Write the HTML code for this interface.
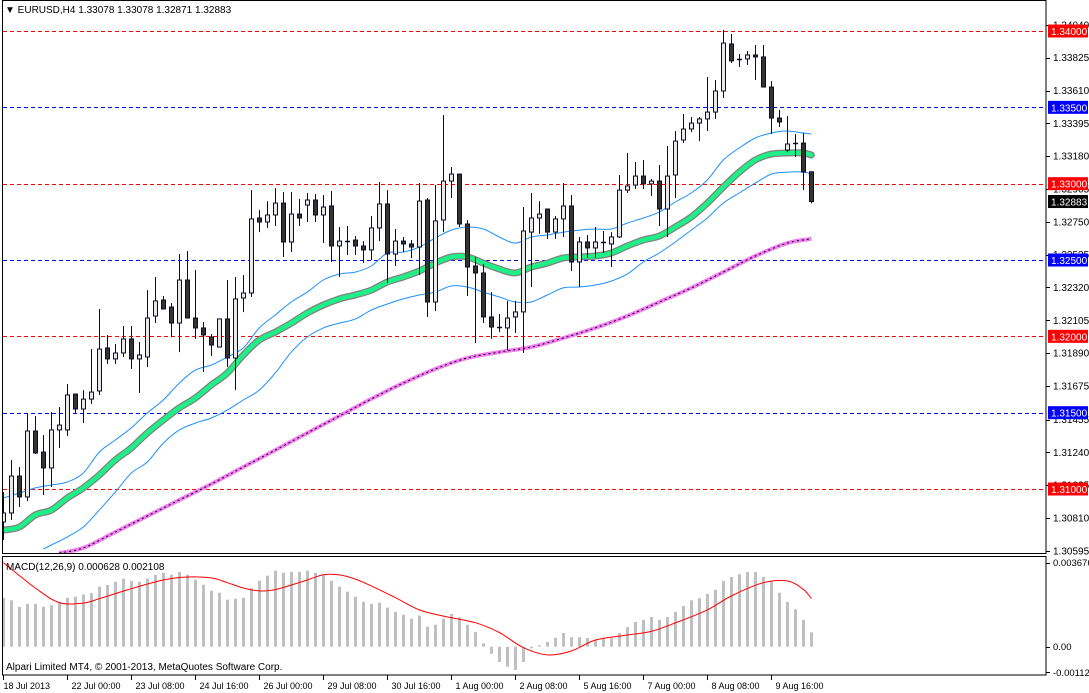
<!DOCTYPE html>
<html><head><meta charset="utf-8">
<style>
html,body{margin:0;padding:0;background:#fff;}
svg{display:block;font-family:"Liberation Sans",sans-serif;}
</style></head>
<body>
<svg id="chart" width="1089" height="693" viewBox="0 0 1089 693" xmlns="http://www.w3.org/2000/svg">
<rect x="0" y="0" width="1089" height="693" fill="#fff"/>
<defs>
<clipPath id="mainClip"><rect x="3" y="1" width="1043" height="552"/></clipPath>
<clipPath id="macdClip"><rect x="3" y="557" width="1043" height="118"/></clipPath>
</defs>
<g id="main" clip-path="url(#mainClip)"></g>
<g id="macd" clip-path="url(#macdClip)"></g>
<g id="axes"></g>
<rect x="2.5" y="0.5" width="1043.5" height="553" fill="none" stroke="#000"/>
<rect x="2.5" y="556.5" width="1043.5" height="118.5" fill="none" stroke="#000"/>
<text x="5" y="13" font-size="10" fill="#000">▼ EURUSD,H4  1.33078 1.33078 1.32871 1.32883</text>
<text x="6" y="570" font-size="10" fill="#000">MACD(12,26,9) 0.000628 0.002108</text>
<text x="6" y="670" font-size="10" fill="#000">Alpari Limited MT4, © 2001-2013, MetaQuotes Software Corp.</text>
</svg>
<script>
const opens=[1.30784,1.30843,1.31085,1.30948,1.31380,1.31242,1.31138,1.31387,1.31387,1.31622,1.31524,1.31589,1.31642,1.31924,1.31852,1.31891,1.31983,1.31852,1.31865,1.32133,1.32238,1.32192,1.32087,1.32369,1.32120,1.32055,1.31996,1.31930,1.32114,1.31858,1.32251,1.32284,1.32775,1.32749,1.32795,1.32873,1.32618,1.32801,1.32860,1.32893,1.32795,1.32854,1.32592,1.32624,1.32631,1.32592,1.32566,1.32710,1.32867,1.32539,1.32624,1.32605,1.32585,1.32893,1.32225,1.32762,1.33017,1.33063,1.32736,1.32461,1.32415,1.32127,1.32061,1.32055,1.32127,1.32160,1.32683,1.32775,1.32834,1.32683,1.32769,1.32854,1.32487,1.32618,1.32579,1.32618,1.32605,1.32651,1.32958,1.32991,1.33050,1.32998,1.33017,1.32834,1.33057,1.33286,1.33358,1.33397,1.33424,1.33469,1.33607,1.33915,1.33817,1.33817,1.33843,1.33830,1.33633,1.33430,1.33220,1.33266,1.33266,1.33078];
const highs=[1.30980,1.31190,1.31144,1.31498,1.31478,1.31354,1.31504,1.31537,1.31688,1.31622,1.31648,1.31917,1.32179,1.32009,1.31950,1.32068,1.32068,1.31963,1.32303,1.32389,1.32264,1.32218,1.32539,1.32559,1.32435,1.32094,1.32015,1.32114,1.32369,1.32389,1.32402,1.32958,1.32828,1.32886,1.32972,1.32945,1.32945,1.32900,1.32939,1.32932,1.32926,1.32952,1.32716,1.32723,1.32657,1.32624,1.32788,1.33011,1.32958,1.32703,1.32651,1.32631,1.33004,1.32906,1.32991,1.33450,1.33109,1.33063,1.32762,1.32520,1.32474,1.32290,1.32146,1.32232,1.32232,1.32847,1.32939,1.32886,1.32834,1.32788,1.33004,1.32926,1.32651,1.32664,1.32716,1.32690,1.32683,1.33057,1.33201,1.33142,1.33155,1.33031,1.33122,1.33247,1.33345,1.33456,1.33437,1.33437,1.33699,1.33679,1.34007,1.33980,1.33849,1.33869,1.33908,1.33908,1.33672,1.33483,1.33443,1.33325,1.33332,1.33078];
const lows=[1.30666,1.30797,1.30882,1.30921,1.31229,1.30961,1.31013,1.31269,1.31347,1.31491,1.31432,1.31557,1.31616,1.31819,1.31819,1.31865,1.31786,1.31629,1.31799,1.32087,1.32179,1.31996,1.31897,1.32120,1.31983,1.31766,1.31871,1.31930,1.31799,1.31648,1.32159,1.32258,1.32683,1.32710,1.32723,1.32520,1.32552,1.32723,1.32749,1.32749,1.32611,1.32487,1.32389,1.32533,1.32533,1.32481,1.32500,1.32624,1.32349,1.32461,1.32552,1.32513,1.32402,1.32127,1.32166,1.32683,1.32906,1.32716,1.32264,1.31956,1.32087,1.31983,1.32028,1.31910,1.32022,1.31891,1.32323,1.32670,1.32638,1.32638,1.32651,1.32428,1.32323,1.32513,1.32513,1.32546,1.32454,1.32644,1.32939,1.32965,1.32965,1.32920,1.32723,1.32651,1.32906,1.33266,1.33338,1.33279,1.33345,1.33424,1.33561,1.33790,1.33764,1.33777,1.33679,1.33633,1.33325,1.33371,1.33207,1.33175,1.32958,1.32871];
const closes=[1.30843,1.31085,1.30948,1.31380,1.31236,1.31138,1.31387,1.31419,1.31616,1.31524,1.31589,1.31635,1.31917,1.31852,1.31891,1.31983,1.31852,1.31878,1.32120,1.32232,1.32179,1.32087,1.32369,1.32120,1.32055,1.32009,1.31943,1.32114,1.31858,1.32245,1.32284,1.32769,1.32749,1.32795,1.32873,1.32618,1.32801,1.32775,1.32893,1.32795,1.32847,1.32592,1.32624,1.32624,1.32592,1.32566,1.32710,1.32867,1.32539,1.32624,1.32605,1.32585,1.32886,1.32225,1.32756,1.33017,1.33063,1.32736,1.32454,1.32415,1.32127,1.32061,1.32055,1.32120,1.32160,1.32690,1.32775,1.32801,1.32683,1.32769,1.32854,1.32487,1.32618,1.32579,1.32618,1.32618,1.32651,1.32958,1.32985,1.33050,1.32998,1.33017,1.32834,1.33050,1.33279,1.33358,1.33397,1.33424,1.33469,1.33607,1.33921,1.33804,1.33810,1.33843,1.33830,1.33633,1.33430,1.33404,1.33260,1.33266,1.33076,1.32883];

const maIndex=[0,2,4,6,8,10,12,14,16,18,20,22,24,26,28,30,32,34,36,38,40,42,44,46,48,50,52,54,56,58,60,62,64,66,68,70,72,74,76,78,80,82,84,86,88,90,92,94,96,98,100,101];
const maMid=[1.30731,1.30751,1.30830,1.30862,1.30941,1.31007,1.31092,1.31190,1.31269,1.31367,1.31452,1.31531,1.31596,1.31681,1.31760,1.31878,1.31976,1.32028,1.32087,1.32153,1.32205,1.32245,1.32271,1.32303,1.32356,1.32389,1.32428,1.32480,1.32520,1.32520,1.32480,1.32441,1.32415,1.32454,1.32480,1.32513,1.32520,1.32526,1.32546,1.32592,1.32631,1.32657,1.32716,1.32782,1.32873,1.32978,1.33076,1.33155,1.33194,1.33201,1.33201,1.33188];
const bandUpper=[1.30941,1.30974,1.31007,1.31026,1.31046,1.31105,1.31242,1.31321,1.31400,1.31498,1.31583,1.31694,1.31779,1.31812,1.31865,1.31924,1.32055,1.32140,1.32225,1.32290,1.32369,1.32408,1.32421,1.32461,1.32546,1.32552,1.32585,1.32644,1.32696,1.32716,1.32703,1.32651,1.32611,1.32651,1.32664,1.32683,1.32696,1.32703,1.32703,1.32742,1.32775,1.32814,1.32880,1.32939,1.33024,1.33155,1.33234,1.33299,1.33332,1.33345,1.33332,1.33325];
const lowerIndex=[5,6,8,10,12,14,16,18,20,22,24,26,28,30,32,34,36,38,40,42,44,46,48,50,52,54,56,58,60,62,64,66,68,70,72,74,76,78,80,82,84,86,88,90,92,94,96,98,100,101];
const bandLower=[1.30607,1.30633,1.30686,1.30751,1.30862,1.30980,1.31105,1.31177,1.31301,1.31386,1.31432,1.31465,1.31517,1.31583,1.31648,1.31760,1.31897,1.31996,1.32055,1.32087,1.32113,1.32172,1.32212,1.32245,1.32271,1.32290,1.32330,1.32323,1.32290,1.32258,1.32225,1.32225,1.32271,1.32317,1.32323,1.32336,1.32362,1.32408,1.32487,1.32546,1.32618,1.32696,1.32775,1.32873,1.32939,1.33004,1.33063,1.33076,1.33076,1.33063];
const slowIndex=[7,10,14,18,22,26,30,34,38,42,46,50,54,58,62,66,70,74,78,82,86,90,94,98,101];
const slowMa=[1.30581,1.30614,1.30718,1.30823,1.30928,1.31033,1.31144,1.31255,1.31367,1.31478,1.31590,1.31694,1.31786,1.31858,1.31897,1.31930,1.31989,1.32055,1.32133,1.32225,1.32317,1.32421,1.32526,1.32611,1.32638];

const macdHist=[0.00214,0.00203,0.00174,0.00188,0.00188,0.00175,0.00182,0.00196,0.00214,0.00219,0.00229,0.00234,0.00263,0.00270,0.00284,0.00298,0.00288,0.00284,0.00298,0.00315,0.00324,0.00315,0.00327,0.00315,0.00293,0.00271,0.00245,0.00236,0.00206,0.00210,0.00214,0.00257,0.00289,0.00311,0.00333,0.00324,0.00328,0.00328,0.00333,0.00324,0.00315,0.00289,0.00263,0.00241,0.00219,0.00197,0.00188,0.00193,0.00171,0.00153,0.00140,0.00123,0.00136,0.00088,0.00096,0.00123,0.00143,0.00129,0.00096,0.00064,0.00015,-0.00031,-0.00067,-0.00088,-0.00102,-0.00067,-0.00007,0.00006,0.00021,0.00039,0.00060,0.00042,0.00042,0.00038,0.00032,0.00035,0.00037,0.00060,0.00086,0.00108,0.00118,0.00130,0.00118,0.00130,0.00153,0.00178,0.00203,0.00212,0.00231,0.00249,0.00288,0.00305,0.00317,0.00327,0.00327,0.00305,0.00288,0.00236,0.00196,0.00164,0.00118,0.000628];
const signalIndex=[0,4,7,10,12,16,20,23,26,28,30,32,34,36,38,40,42,44,46,49,52,55,59,62,65,68,71,74,78,81,84,88,91,95,98,100,101];
const signalVal=[0.00368,0.00257,0.00193,0.00191,0.00210,0.00254,0.00292,0.00305,0.00301,0.00280,0.00257,0.00244,0.00250,0.00270,0.00292,0.00315,0.00314,0.00296,0.00266,0.00215,0.00161,0.00134,0.00105,0.00062,-0.00004,-0.00036,-0.00019,0.00029,0.00051,0.00067,0.00104,0.00161,0.00222,0.00280,0.00288,0.00251,0.002108];

const levelPrices=[1.34,1.335,1.33,1.325,1.32,1.315,1.31];
const levelColors=['#ff0000','#0000ff','#ff0000','#0000ff','#ff0000','#0000ff','#ff0000'];
const levelLabels=['1.34000','1.33500','1.33000','1.32500','1.32000','1.31500','1.31000'];
const priceTicks=[1.34040,1.33825,1.33610,1.33395,1.33180,1.32965,1.32750,1.32535,1.32320,1.32105,1.31890,1.31675,1.31455,1.31240,1.31025,1.30810,1.30595];
const priceTickLabels=['1.34040','1.33825','1.33610','1.33395','1.33180','1.32965','1.32750','1.32535','1.32320','1.32105','1.31890','1.31675','1.31455','1.31240','1.31025','1.30810','1.30595'];
const macdTicks=[0.003676,0,-0.001122];
const macdTickLabels=['0.003676','0.00','-0.001122'];
const timeIndex=[0,8,16,24,32,40,48,56,64,72,80,88,96];
const timeLabels=['18 Jul 2013','22 Jul 00:00','23 Jul 08:00','24 Jul 16:00','26 Jul 00:00','29 Jul 08:00','30 Jul 16:00','1 Aug 00:00','2 Aug 08:00','5 Aug 16:00','7 Aug 00:00','8 Aug 08:00','9 Aug 16:00'];
const lastPrice=1.32883;

const NS='http://www.w3.org/2000/svg';
function xOf(i){return 3.3+8*i;}
function yP(p){return 31+(1.34-p)*15267;}
function yM(v){return 646.7-v*22851;}
function mk(tag,attrs,parent){const e=document.createElementNS(NS,tag);for(const k in attrs)e.setAttribute(k,attrs[k]);parent.appendChild(e);return e;}
const main=document.getElementById('main');
const macd=document.getElementById('macd');
const axes=document.getElementById('axes');

levelPrices.forEach((p,k)=>{
  const y=Math.round(yP(p))+0.5;
  const l=mk('line',{x1:3,x2:1046,y1:y,y2:y,stroke:levelColors[k],'stroke-width':1,'stroke-dasharray':'4,3'},main);
  
  
});

function linePath(idx,vals,fy){
  const pts=idx.map((i,k)=>[xOf(i),fy(vals[k])]);
  let d='M'+pts[0][0].toFixed(1)+','+pts[0][1].toFixed(1);
  for(let k=0;k<pts.length-1;k++){
    const p0=pts[Math.max(0,k-1)],p1=pts[k],p2=pts[k+1],p3=pts[Math.min(pts.length-1,k+2)];
    const c1x=p1[0]+(p2[0]-p0[0])/6,c1y=p1[1]+(p2[1]-p0[1])/6;
    const c2x=p2[0]-(p3[0]-p1[0])/6,c2y=p2[1]-(p3[1]-p1[1])/6;
    d+=' C'+c1x.toFixed(1)+','+c1y.toFixed(1)+' '+c2x.toFixed(1)+','+c2y.toFixed(1)+' '+p2[0].toFixed(1)+','+p2[1].toFixed(1);
  }
  return d;
}

const sp=linePath(slowIndex,slowMa,yP);
const s1=mk('path',{d:sp,fill:'none',stroke:'#f27ef2','stroke-width':4,'stroke-linejoin':'round'},main);


const s2=mk('path',{d:sp,fill:'none',stroke:'#000','stroke-width':1,'stroke-dasharray':'2,3'},main);



const bu=mk('path',{d:linePath(maIndex,bandUpper,yP),fill:'none',stroke:'#1e90ff','stroke-width':1},main);


const bl=mk('path',{d:linePath(lowerIndex,bandLower,yP),fill:'none',stroke:'#1e90ff','stroke-width':1},main);



const gp=linePath(maIndex,maMid,yP);
const g1=mk('path',{d:gp,fill:'none',stroke:'#808080','stroke-width':7,'stroke-linejoin':'round','stroke-linecap':'round'},main);


const g2=mk('path',{d:gp,fill:'none',stroke:'#1ef088','stroke-width':4.5,'stroke-linejoin':'round','stroke-linecap':'round'},main);



for(let i=0;i<opens.length;i++){
  const xc=Math.round(xOf(i));
  const g=mk('g',{},main);
  
  
  mk('line',{x1:xc+0.5,x2:xc+0.5,y1:yP(highs[i]),y2:yP(lows[i]),stroke:'#0a0a3a','stroke-width':1},g);
  const yo=yP(opens[i]),yc=yP(closes[i]);
  const top=Math.min(yo,yc),h=Math.abs(yo-yc);
  if(h<1.5){
    mk('line',{x1:xc-2,x2:xc+3,y1:Math.round(top)+0.5,y2:Math.round(top)+0.5,stroke:'#0a0a3a','stroke-width':1.5},g);
  } else {
    mk('rect',{x:xc-1.5,y:top,width:4,height:h,fill:closes[i]>opens[i]?'#e8e8e8':'#333333',stroke:'#0a0a3a','stroke-width':1},g);
  }
}

for(let i=0;i<macdHist.length;i++){
  const xc=Math.round(xOf(i));
  const y0=yM(0),y1=yM(macdHist[i]);
  const r=mk('rect',{x:xc-1,y:Math.min(y0,y1),width:3,height:Math.max(0.5,Math.abs(y1-y0)),fill:'#c0c0c0'},macd);
  
  
}
const sig=mk('path',{d:linePath(signalIndex,signalVal,yM),fill:'none',stroke:'#ff0000','stroke-width':1},macd);



priceTicks.forEach((p,k)=>{
  const y=yP(p);
  mk('line',{x1:1046,x2:1050,y1:Math.round(y)+0.5,y2:Math.round(y)+0.5,stroke:'#000'},axes);
  const t=mk('text',{x:1053,y:y+3.5,'font-size':10,fill:'#000'},axes);
  t.textContent=priceTickLabels[k];
  
  
});
levelPrices.forEach((p,k)=>{
  const y=yP(p);
  const r=mk('rect',{x:1048,y:y-6.5,width:40,height:13,fill:levelColors[k]},axes);
  
  
  const t=mk('text',{x:1051,y:y+4,'font-size':10,fill:'#fff'},axes);
  t.textContent=levelLabels[k];
  
  
});
{
  const y=yP(lastPrice);
  const r=mk('rect',{x:1048,y:y-6.5,width:40,height:13,fill:'#000'},axes);
  
  
  const t=mk('text',{x:1051,y:y+4,'font-size':10,fill:'#fff'},axes);
  t.textContent=lastPrice.toFixed(5);
  
  
}
macdTicks.forEach((v,k)=>{
  const y=yM(v);
  mk('line',{x1:1046,x2:1050,y1:Math.round(y)+0.5,y2:Math.round(y)+0.5,stroke:'#000'},axes);
  const t=mk('text',{x:1053,y:y+3.5,'font-size':9.5,fill:'#000'},axes);
  t.textContent=macdTickLabels[k];
  
  
});
timeIndex.forEach((i,k)=>{
  const x=Math.round(xOf(i))+0.5;
  mk('line',{x1:x,x2:x,y1:675,y2:680,stroke:'#000'},axes);
  const t=mk('text',{x:x+(k===0?0:4),y:689,'font-size':9,fill:'#000'},axes);
  t.textContent=timeLabels[k];
  
  
});
</script>
</body></html>
